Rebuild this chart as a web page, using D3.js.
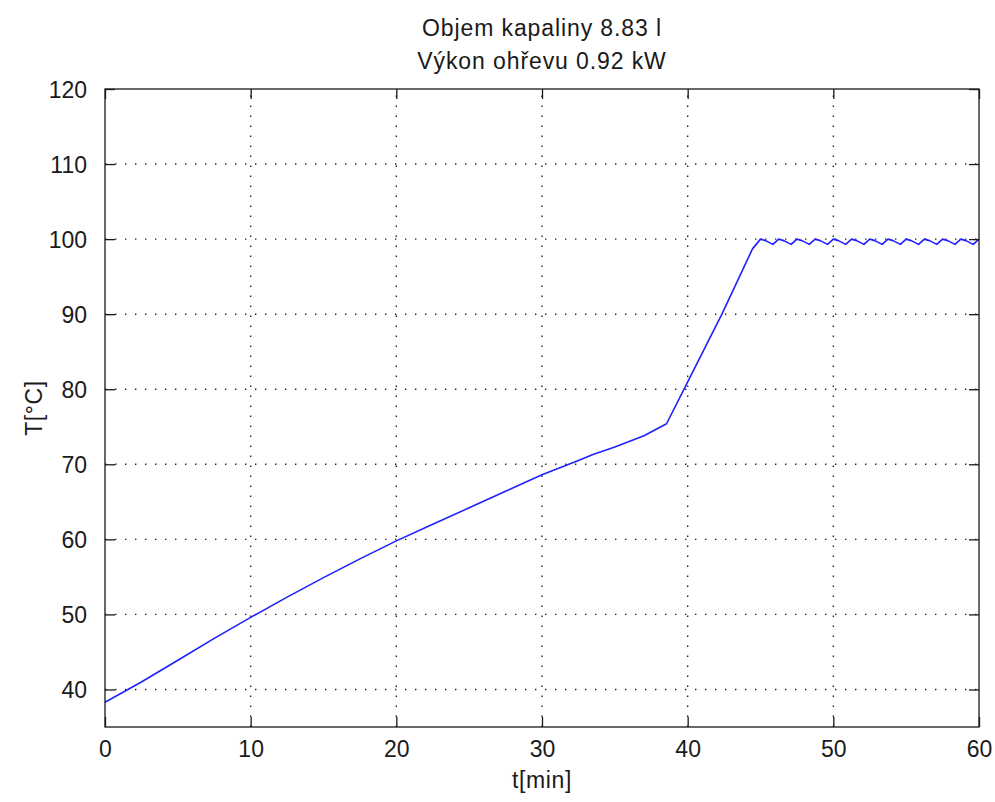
<!DOCTYPE html>
<html>
<head>
<meta charset="utf-8">
<script src="https://cdn.jsdelivr.net/npm/d3@7"></script>
<style>
  html, body { margin: 0; padding: 0; background: #fff; }
  svg { display: block; }
  text { font-family: "Liberation Sans", Arial, sans-serif; fill: #1a1a1a; }
</style>
</head>
<body>
<script>
// ---- data ----
const titleLines = ["Objem kapaliny 8.83 l", "Výkon ohřevu 0.92 kW"];
const xLabel = "t[min]";
const yLabel = "T[°C]";
const xTicks = [0, 10, 20, 30, 40, 50, 60];
const yTicks = [40, 50, 60, 70, 80, 90, 100, 110, 120];

const timeMin = [0, 2.5, 5, 7.5, 10, 12.5, 15, 17.5, 20, 22.5, 25, 27.5, 30, 32.5, 33.5, 35, 37, 38.55, 39.75, 42.35, 44.45, 45.0,
  45.35, 45.85, 46.25, 46.6, 47.1, 47.5, 47.85, 48.35, 48.75, 49.1, 49.6, 50.0, 50.35, 50.85, 51.25, 51.6, 52.1, 52.5,
  52.85, 53.35, 53.75, 54.1, 54.6, 55.0, 55.35, 55.85, 56.25, 56.6, 57.1, 57.5, 57.85, 58.35, 58.75, 59.1, 59.6, 60.0];
const tempC = [38.3, 41.0, 43.9, 46.8, 49.6, 52.3, 54.9, 57.4, 59.8, 62.0, 64.2, 66.4, 68.6, 70.5, 71.3, 72.3, 73.8, 75.4, 80.0, 90.0, 98.7, 100.0,
  99.8, 99.3, 100.0, 99.8, 99.3, 100.0, 99.8, 99.3, 100.0, 99.8, 99.3, 100.0, 99.8, 99.3, 100.0, 99.8, 99.3, 100.0,
  99.8, 99.3, 100.0, 99.8, 99.3, 100.0, 99.8, 99.3, 100.0, 99.8, 99.3, 100.0, 99.8, 99.3, 100.0, 99.8, 99.3, 100.0];

// ---- layout ----
const W = 995, H = 802;
const m = { left: 105, right: 16, top: 89, bottom: 75 };
const iw = W - m.left - m.right, ih = H - m.top - m.bottom;

const svg = d3.select("body").append("svg").attr("width", W).attr("height", H);
const g = svg.append("g").attr("transform", `translate(${m.left},${m.top})`);

const x = d3.scaleLinear().domain([0, 60]).range([0, iw]);
const y = d3.scaleLinear().domain([35, 120]).range([ih, 0]);

// grid
const grid = g.append("g").attr("stroke", "#222").attr("stroke-width", 1.4)
  .attr("stroke-dasharray", "1.4,8.6").attr("fill", "none");
xTicks.filter(d => d > 0 && d < 60).forEach(d => {
  grid.append("line").attr("x1", x(d)).attr("x2", x(d)).attr("y1", ih).attr("y2", 0);
});
yTicks.filter(d => d < 120).forEach(d => {
  grid.append("line").attr("x1", 0).attr("x2", iw).attr("y1", y(d)).attr("y2", y(d));
});

// data line
const line = d3.line().x((d, i) => x(timeMin[i])).y((d, i) => y(tempC[i]));
g.append("path").datum(tempC).attr("d", line)
  .attr("fill", "none").attr("stroke", "#2020ff").attr("stroke-width", 1.6)
  .attr("stroke-linejoin", "round");

// axes (inward ticks, mirrored)
const tl = 10;
const axB = g.append("g").attr("transform", `translate(0,${ih})`)
  .call(d3.axisBottom(x).tickValues(xTicks).tickSizeInner(-tl).tickSizeOuter(0).tickPadding(14));
const axT = g.append("g")
  .call(d3.axisTop(x).tickValues(xTicks).tickSizeInner(-tl).tickSizeOuter(0).tickFormat(""));
const axL = g.append("g")
  .call(d3.axisLeft(y).tickValues(yTicks).tickSizeInner(-tl).tickSizeOuter(0).tickPadding(18));
const axR = g.append("g").attr("transform", `translate(${iw},0)`)
  .call(d3.axisRight(y).tickValues(yTicks).tickSizeInner(-tl).tickSizeOuter(0).tickFormat(""));

[axB, axT, axL, axR].forEach(a => {
  a.select(".domain").remove();
  a.selectAll(".tick line").attr("stroke", "#1a1a1a").attr("stroke-width", 1.3);
  a.selectAll("text").attr("font-size", 23).attr("fill", "#1a1a1a")
    .style("font-family", '"Liberation Sans", Arial, sans-serif');
});
axB.selectAll("text").attr("dy", "0.71em");
axL.selectAll("text").attr("dy", "0.36em");

// box
g.append("rect").attr("x", 0).attr("y", 0).attr("width", iw).attr("height", ih)
  .attr("fill", "none").attr("stroke", "#1a1a1a").attr("stroke-width", 1.3);

// title
svg.append("g").selectAll("text").data(titleLines).join("text")
  .attr("x", m.left + iw / 2).attr("y", (d, i) => 36 + i * 33)
  .attr("text-anchor", "middle").attr("font-size", 23).attr("letter-spacing", 0.9)
  .text(d => d);

// axis labels
svg.append("text").attr("x", m.left + iw / 2).attr("y", 788)
  .attr("text-anchor", "middle").attr("font-size", 23).attr("letter-spacing", 0.6).text(xLabel);
svg.append("text").attr("transform", `translate(42,${m.top + ih / 2}) rotate(-90)`)
  .attr("text-anchor", "middle").attr("font-size", 23).attr("letter-spacing", 0.6).text(yLabel);
</script>
</body>
</html>
